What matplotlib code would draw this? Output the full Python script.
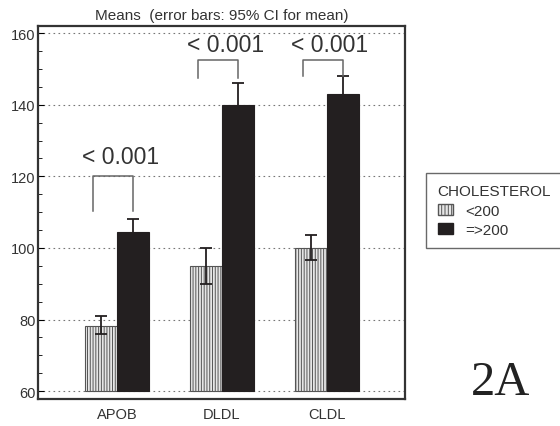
import numpy as np
import matplotlib
matplotlib.use('Agg')
import matplotlib.pyplot as plt
from matplotlib.patches import Patch

groups = ['APOB', 'DLDL', 'CLDL']
low_mean = [78.3, 95.0, 100.0]
low_lo = [76.0, 90.0, 96.5]
low_hi = [81.0, 100.0, 103.5]
high_mean = [104.5, 140.0, 143.0]
high_lo = [101.0, 134.0, 138.0]
high_hi = [108.0, 146.0, 148.0]
p_text = ['< 0.001', '< 0.001', '< 0.001']
p_y = [123.7, 155.0, 155.0]
bracket_top = [120.0, 152.5, 152.5]
bracket_bot = [110.3, 147.5, 148.0]
legend_labels = ['<200', '=>200']

plt.rcParams['hatch.linewidth'] = 0.7
plt.rcParams['font.family'] = ['Liberation Sans', 'DejaVu Sans']

fig = plt.figure(figsize=(5.6, 4.27), dpi=100)
ax = fig.add_axes([0.068, 0.063, 0.655, 0.874])

x = np.arange(len(groups))
w = 0.305
xl = x - w / 2
xh = x + w / 2

ax.bar(xl, np.array(low_mean) - 60, w, bottom=60, color='#e6e6e6',
       edgecolor='#555555', hatch='||||||', linewidth=0.8, zorder=3)
ax.bar(xh, np.array(high_mean) - 60, w, bottom=60, color='#231f20',
       edgecolor='#231f20', linewidth=0.8, zorder=3)

err_low = [np.array(low_mean) - np.array(low_lo), np.array(low_hi) - np.array(low_mean)]
err_high = [np.array(high_mean) - np.array(high_lo), np.array(high_hi) - np.array(high_mean)]
ax.errorbar(xl, low_mean, yerr=err_low, fmt='none', ecolor='#231f20',
            elinewidth=1.3, capsize=4, capthick=1.3, zorder=4)
ax.errorbar(xh, high_mean, yerr=err_high, fmt='none', ecolor='#231f20',
            elinewidth=1.3, capsize=4, capthick=1.3, zorder=4)

# significance brackets
for i in range(len(groups)):
    bx0 = x[i] - 0.23
    bx1 = xh[i]
    ax.plot([bx0, bx0, bx1, bx1], [bracket_bot[i], bracket_top[i], bracket_top[i], bracket_bot[i]],
            color='#666666', lw=1.1, zorder=5)
    ax.text(x[i] + 0.03, p_y[i], p_text[i], ha='center', va='baseline',
            fontsize=16.5, color='#333333')

ax.set_xlim(-0.752, 2.743)
ax.set_ylim(57.8, 162)
ax.set_xticks(x)
ax.set_xticklabels(groups, fontsize=10.5, color='#333333')
ax.set_yticks([60, 80, 100, 120, 140, 160])
ax.set_yticks(np.arange(60, 161, 5), minor=True)
ax.tick_params(axis='y', which='major', direction='in', length=4, labelsize=10.5,
               labelcolor='#333333', pad=2)
ax.tick_params(axis='y', which='minor', direction='in', length=3)
ax.tick_params(axis='x', length=0, pad=6)
ax.yaxis.grid(True, linestyle=(0, (1.5, 3)), color='#777777', lw=0.8, zorder=0)
for s in ax.spines.values():
    s.set_linewidth(1.6)
    s.set_color('#333333')

ax.set_title('Means  (error bars: 95% CI for mean)', fontsize=11, color='#333333', pad=5)

handles = [Patch(facecolor='#e6e6e6', edgecolor='#555555', hatch='|||||'),
           Patch(facecolor='#231f20', edgecolor='#231f20')]
leg = fig.legend(handles, legend_labels, title='CHOLESTEROL', loc='upper left',
                 bbox_to_anchor=(0.761, 0.593), borderaxespad=0, fontsize=11,
                 title_fontsize=11, frameon=True, fancybox=False, handlelength=1.0,
                 handleheight=0.75, handletextpad=0.8, labelspacing=0.35,
                 borderpad=0.75, alignment='left')
leg.get_frame().set_edgecolor('#444444')
leg.get_frame().set_linewidth(1.0)
for t in leg.get_texts():
    t.set_color('#333333')
leg.get_title().set_color('#333333')

fig.text(0.893, 0.075, '2A', fontsize=35, family='Liberation Serif', ha='center',
         va='baseline', color='#222222')

fig.savefig('out.png', dpi=100)
